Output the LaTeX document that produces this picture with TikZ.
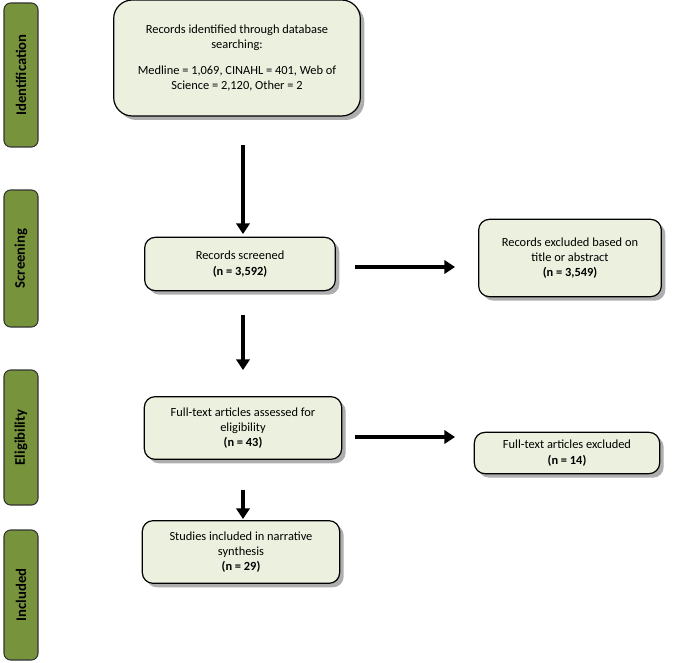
\documentclass[tikz,border=0pt]{standalone}
\usepackage{fontspec}
\setmainfont{Carlito}
\usetikzlibrary{shadows,arrows.meta}
\definecolor{boxfill}{HTML}{EBF1DE}
\definecolor{side}{HTML}{77933C}
\begin{document}
\begin{tikzpicture}[x=0.75pt,y=-0.75pt,
  box/.style={draw=black,line width=0.9pt,fill=boxfill,rounded corners=8pt,align=center,font=\fontsize{9.3}{11.5}\selectfont,inner sep=0pt,drop shadow={shadow xshift=3pt,shadow yshift=-3pt,fill=black!45,opacity=0.7}},
  sidebar/.style={draw=black!80,line width=0.8pt,fill=side,rounded corners=5pt,inner sep=0pt},
  arr/.style={line width=3pt,-{Triangle[length=8pt,width=10pt]}}]
\useasboundingbox (0,0) rectangle (685,663);
% side bars
\foreach \n/\t/\ya/\yb in {id/Identification/3/147, sc/Screening/190/327, el/Eligibility/370/505, in/Included/530/660}{
  \node[sidebar,minimum width=25.5pt,minimum height={(\yb-\ya)*0.75pt}] (\n) at (21,{(\ya+\yb)/2}) {};
  \node[rotate=90,font=\bfseries\fontsize{11}{13}\selectfont] at (\n.center) {\t};
}
\node[box,rounded corners=14pt,minimum width=185pt,minimum height=87pt] (a) at (237,58)
 {Records identified through database\\searching:\\[8pt]Medline = 1,069, CINAHL = 401, Web of\\Science = 2,120, Other = 2};
\node[box,minimum width=143pt,minimum height=40pt] (b) at (240,264) {Records screened\\\textbf{(n = 3,592)}};
\node[box,minimum width=137pt,minimum height=58pt] (c) at (570,258) {Records excluded based on\\title or abstract\\\textbf{(n = 3,549)}};
\node[box,minimum width=148pt,minimum height=47pt] (d) at (243,428) {Full-text articles assessed for\\eligibility\\\textbf{(n = 43)}};
\node[box,minimum width=139pt,minimum height=31pt] (e) at (567,453) {Full-text articles excluded\\\textbf{(n = 14)}};
\node[box,minimum width=148pt,minimum height=47pt] (f) at (241,552) {Studies included in narrative\\synthesis\\\textbf{(n = 29)}};
\coordinate (a1) at (243,145); \coordinate (b0) at (243,234);
\draw[arr] (a1) -- (b0);
\coordinate (b1) at (243,315); \coordinate (d0) at (243,370);
\draw[arr] (b1) -- (d0);
\coordinate (d1) at (243,490); \coordinate (f0) at (243,519);
\draw[arr] (d1) -- (f0);
\coordinate (bh) at (355,267); \coordinate (ch) at (455,267);
\draw[arr] (bh) -- (ch);
\coordinate (dh) at (355,437); \coordinate (eh) at (455,437);
\draw[arr] (dh) -- (eh);
\end{tikzpicture}
\end{document}
